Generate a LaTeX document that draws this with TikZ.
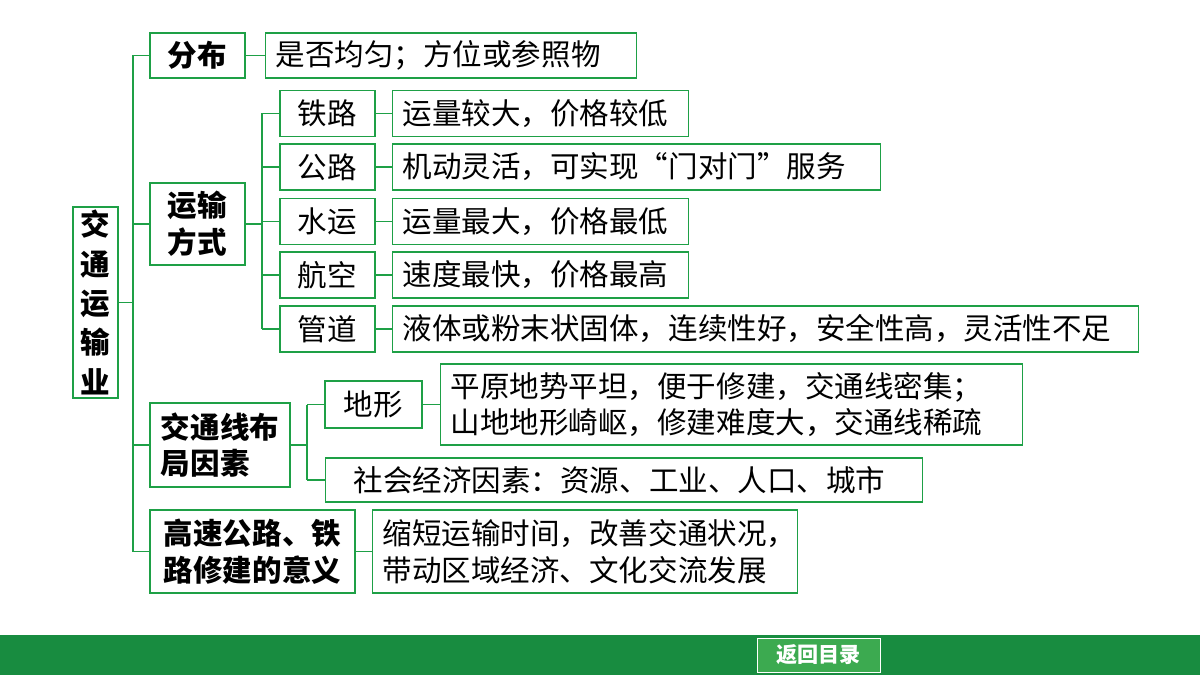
\documentclass[tikz,border=0pt]{standalone}
\usepackage{fontspec}
\setmainfont{Noto Sans CJK SC}
\usetikzlibrary{positioning}
\definecolor{lineg}{RGB}{30,160,70}
\definecolor{barg}{RGB}{24,140,64}
\definecolor{btng}{RGB}{60,170,80}
\tikzset{
  box/.style={draw=lineg, line width=1pt, inner sep=2pt, font=\fontsize{21}{26}\selectfont},
  head/.style={box, font=\fontsize{21}{26}\selectfont\bfseries},
  desc/.style={box, anchor=west, inner xsep=0.25cm, text width=(#1-20)*0.025cm, align=left},
  link/.style={draw=lineg, line width=1pt}
}
\begin{document}
\begin{tikzpicture}[x=0.025cm, y=-0.025cm]
	\useasboundingbox (0,0) rectangle (1200,675);
	\fill[white] (0,0) rectangle (1200,675);

	% Hauptast
	\node[head, minimum width=45*0.025cm, minimum height=191*0.025cm, align=center, font=\fontsize{21}{28}\selectfont\bfseries] (root) at (95.5,302.5) {交\\通\\运\\输\\业};
	\node[head, minimum width=95*0.025cm, minimum height=45*0.025cm] (dist) at (197.5,55.5) {分布};
	\node[head, minimum width=95*0.025cm, minimum height=82*0.025cm, align=center] (mode) at (197.5,224) {运输\\方式};
	\node[head, minimum width=140*0.025cm, minimum height=84*0.025cm, align=left] (fact) at (220,445) {交通线布\\局因素};
	\node[head, minimum width=205*0.025cm, minimum height=83*0.025cm, align=left] (mean) at (252.5,551.5) {高速公路、铁\\路修建的意义};

	\node[desc=371, minimum height=45*0.025cm] (distd) at (265,55.5) {是否均匀；方位或参照物};

	% Verkehrsarten
	\foreach \n/\t/\y/\w/\d in {rail/铁路/113.5/296/运量较大，价格较低,
	                           road/公路/167/488/机动灵活，可实现“门对门”服务,
	                           water/水运/221.5/296/运量最大，价格最低,
	                           air/航空/275/296/速度最快，价格最高,
	                           pipe/管道/329/746/液体或粉末状固体，连续性好，安全性高，灵活性不足}{
		\node[box, minimum width=95*0.025cm, minimum height=46*0.025cm] (\n) at (327.5,\y) {\t};
		\node[desc=\w, minimum height=46*0.025cm] (\n d) at (392,\y) {\d};
		\draw[link] (\n) -- (\n d);
		\draw[link] (262,\y) -- (\n);
	}

	% Faktoren
	\node[box, minimum width=97*0.025cm, minimum height=47*0.025cm] (terr) at (373.5,404.5) {地形};
	\node[desc=582, minimum height=81*0.025cm] (terrd) at (440,404.5) {平原地势平坦，便于修建，交通线密集；\\山地地形崎岖，修建难度大，交通线稀疏};
	\node[desc=561, inner xsep=0.7cm, minimum height=44*0.025cm] (soc) at (325,480) {社会经济因素：资源、工业、人口、城市};
	\node[desc=425, minimum height=83*0.025cm] (meand) at (372,551.5) {缩短运输时间，改善交通状况，\\带动区域经济、文化交流发展};

	% Verbindungen
	\draw[link] (root.east) -- (133,302.5);
	\draw[link] (133,55.5) -- (133,551.5);
	\foreach \m in {dist,mode,fact,mean}
		\draw[link] (133,0 |- \m.west) -- (\m.west);
	\draw[link] (dist) -- (distd);
	\draw[link] (mode.east) -- (262,224);
	\draw[link] (262,113.5) -- (262,329);
	\draw[link] (fact.east) -- (307,445);
	\draw[link] (307,404.5) -- (307,480);
	\draw[link] (307,404.5) -- (terr);
	\draw[link] (307,480) -- (soc.west);
	\draw[link] (terr) -- (terrd);
	\draw[link] (mean) -- (meand);

	% Fusszeile
	\fill[barg] (0,635) rectangle (1200,675);
	\node[fill=btng, draw=white, line width=0.6pt, text=white, font=\fontsize{15}{18}\selectfont\bfseries, minimum width=123*0.025cm, minimum height=34*0.025cm] (back) at (818.5,655) {返回目录};
\end{tikzpicture}
\end{document}
